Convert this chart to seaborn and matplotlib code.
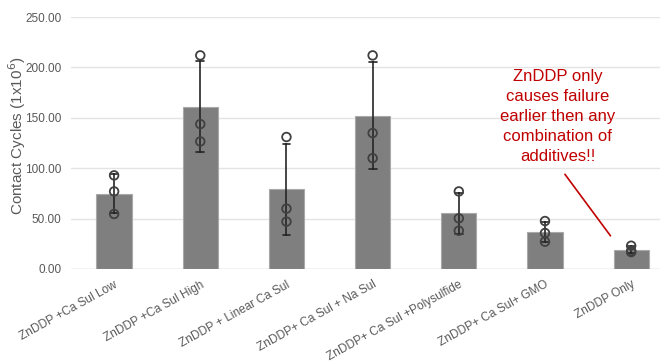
import numpy as np
import pandas as pd
import matplotlib
matplotlib.use("Agg")
import matplotlib.pyplot as plt
import seaborn as sns

# ---- data ----
categories = [
    "ZnDDP +Ca Sul Low",
    "ZnDDP +Ca Sul High",
    "ZnDDP + Linear Ca Sul",
    "ZnDDP+ Ca Sul + Na Sul",
    "ZnDDP+ Ca Sul +Polysulfide",
    "ZnDDP+ Ca Sul+ GMO",
    "ZnDDP Only",
]
rep1 = [92.9, 212.0, 131.0, 212.0, 77.0, 47.6, 23.1]
rep2 = [77.0, 143.8, 59.9, 134.9, 50.3, 35.7, 17.9]
rep3 = [54.6, 126.6, 47.0, 110.0, 38.0, 27.1, 16.8]
y_ticks = [0, 50, 100, 150, 200, 250]
note = "ZnDDP only\ncauses failure\nearlier then any\ncombination of\nadditives!!"

df = pd.DataFrame({
    "additive": categories * 3,
    "cycles": rep1 + rep2 + rep3,
})

# ---- style ----
sns.set_theme(style="white")
plt.rcParams["font.family"] = ["Liberation Sans", "DejaVu Sans"]
text_grey = "#595959"

fig = plt.figure(figsize=(6.6, 3.64), dpi=100)
ax = fig.add_axes([0.1076, 0.261, 0.914, 0.692])

# bars = mean of the three runs, error bars = sample std
sns.barplot(data=df, x="additive", y="cycles", order=categories,
            estimator="mean", errorbar="sd", width=0.41,
            color="#7f7f7f", saturation=1, edgecolor="#a9a9a9", linewidth=0.8,
            capsize=0.09, err_kws={"color": "#262626", "linewidth": 1.2},
            ax=ax, zorder=2)

# individual runs as open circles
sns.stripplot(data=df, x="additive", y="cycles", order=categories,
              jitter=False, size=6.2, color="#404040", linewidth=1.3,
              edgecolor="#404040", ax=ax, zorder=4)
for coll in ax.collections:
    coll.set_facecolor("none")
    coll.set_edgecolor("#404040")

# ---- axes ----
ax.set_ylim(0, 250)
ax.set_xlim(-0.5, len(categories) - 0.5)
ax.set_yticks(y_ticks)
ax.set_yticklabels([f"{v:.2f}" for v in y_ticks])
ax.yaxis.grid(True, color="#e4e4e4", linewidth=1, zorder=0)
ax.set_axisbelow(True)
for s in ["top", "right", "left", "bottom"]:
    ax.spines[s].set_visible(False)
ax.axhline(0, color="#d9d9d9", linewidth=1, zorder=1)

ax.tick_params(axis="y", length=0, pad=7, labelsize=8.5, labelcolor=text_grey)
ax.tick_params(axis="x", length=0, pad=7, labelsize=8.6, labelcolor=text_grey)
plt.setp(ax.get_xticklabels(), rotation=29, ha="right", rotation_mode="anchor")

ax.set_xlabel("")
ax.set_ylabel("Contact Cycles (1x10$^6$)", fontsize=11, color=text_grey)
ax.yaxis.set_label_coords(-0.072, 0.53)

# ---- callout ----
red = "#C00000"
ax.text(0.807, 0.607, note, transform=ax.transAxes, ha="center", va="center",
        fontsize=12, color=red, linespacing=1.42)
ax.annotate("", xy=(0.897, 0.123), xytext=(0.816, 0.385),
            xycoords="axes fraction", textcoords="axes fraction",
            arrowprops=dict(arrowstyle="-", color=red, lw=1.2))

fig.savefig("out.png", dpi=100)
